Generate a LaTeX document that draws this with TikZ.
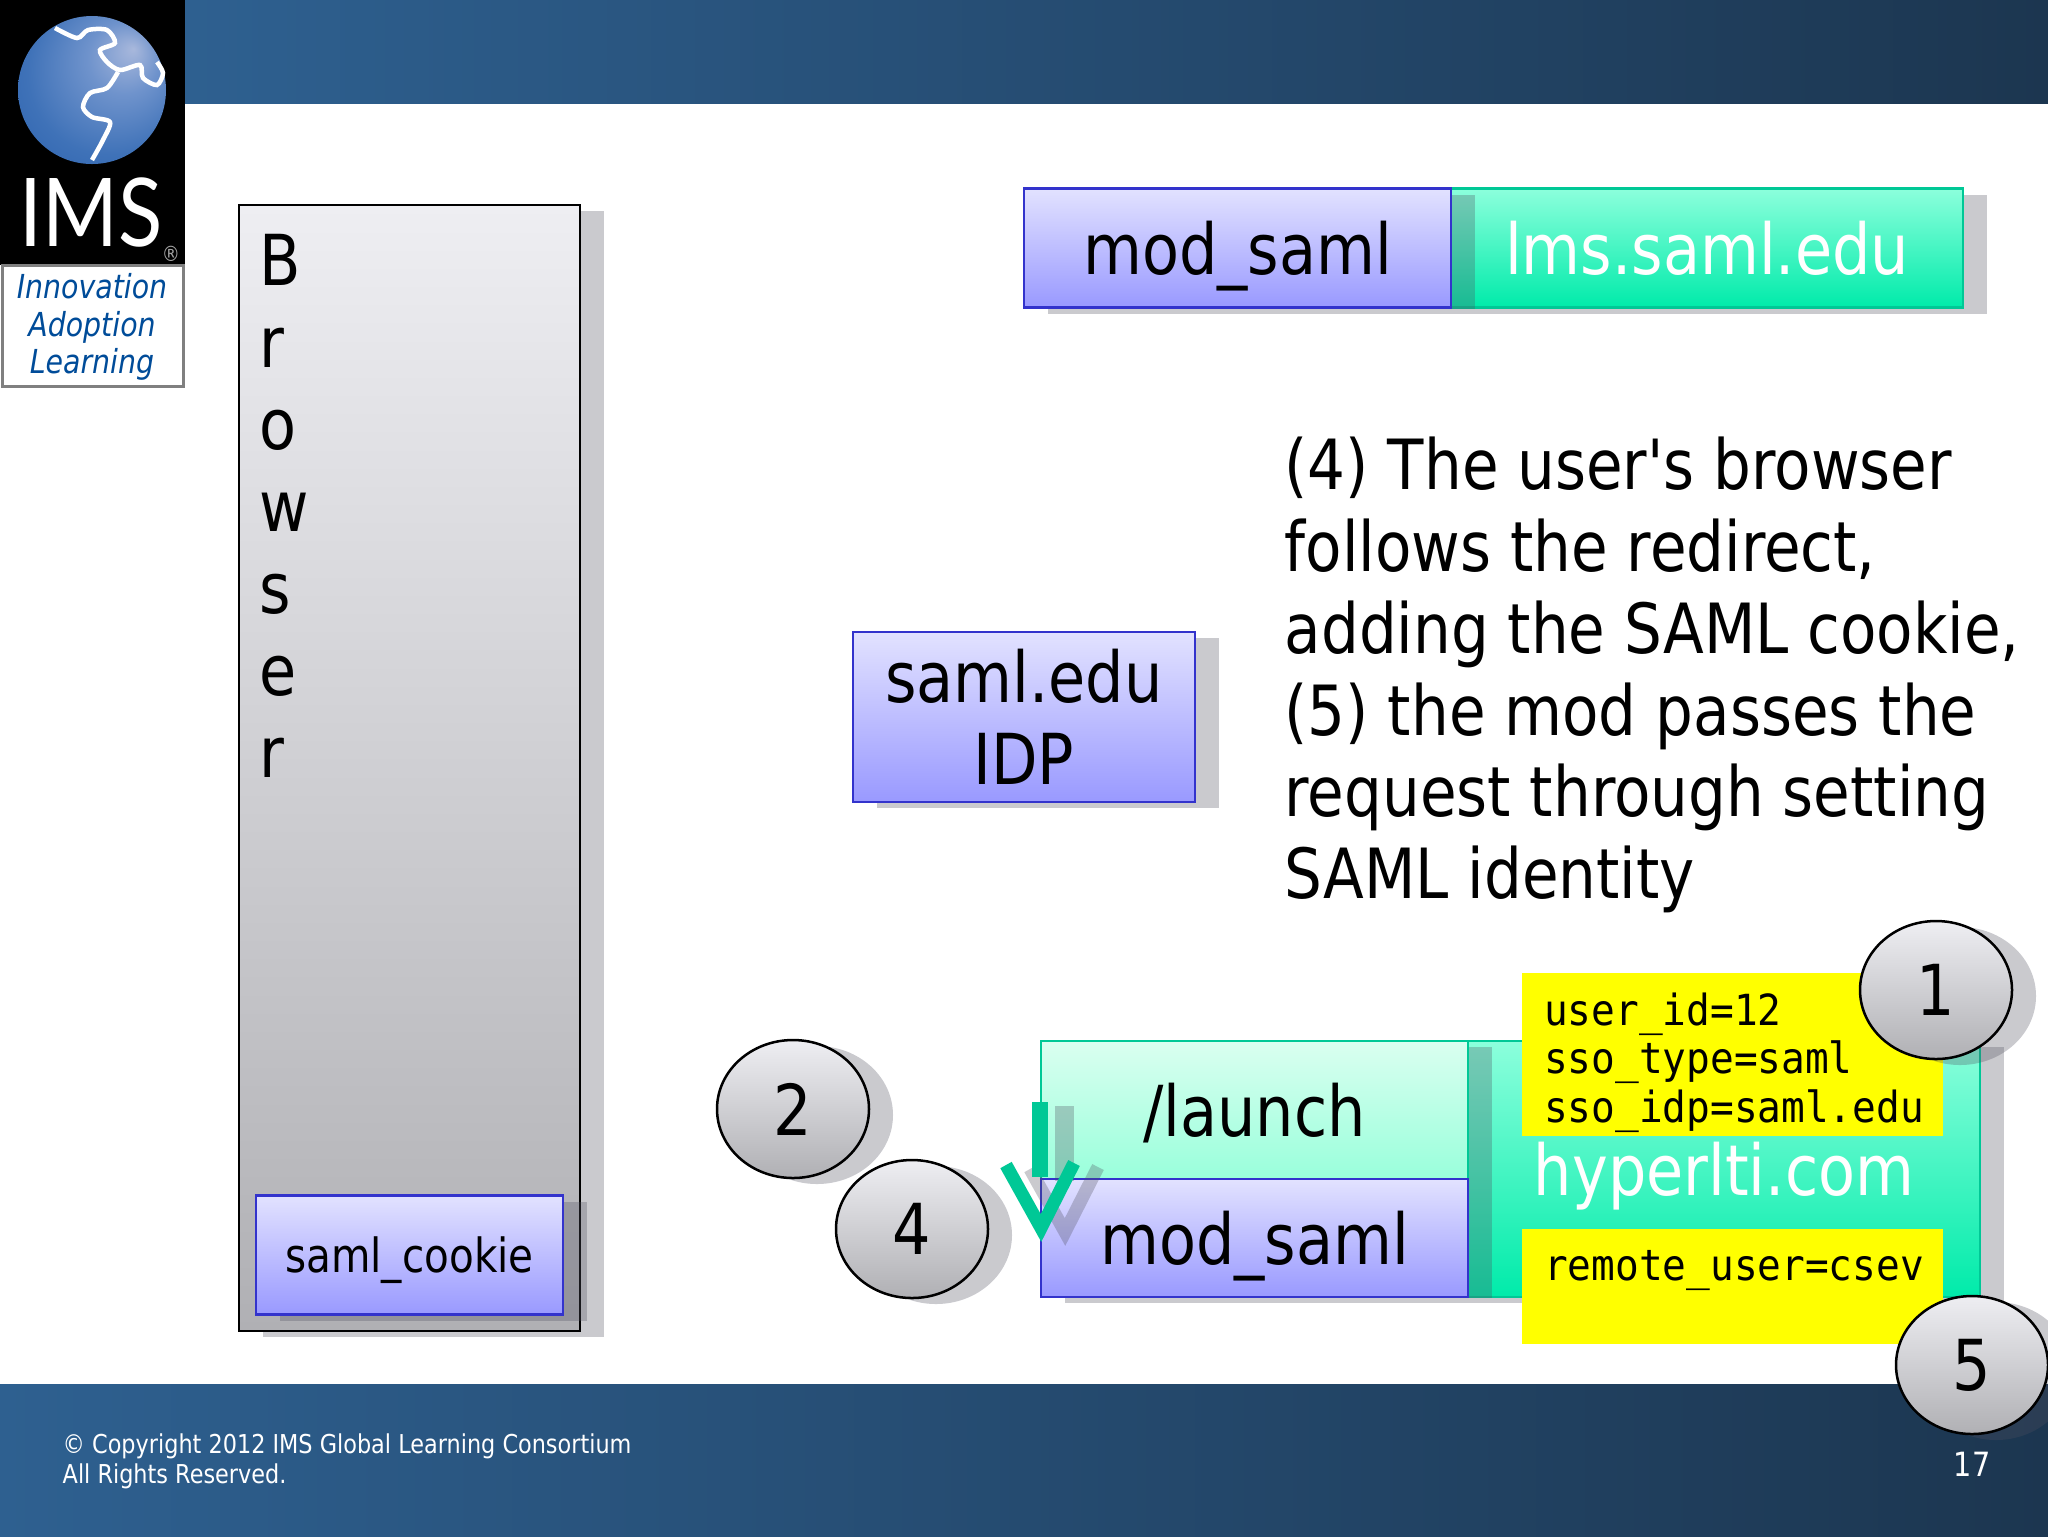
\documentclass[tikz,border=0pt]{standalone}
\usepackage{fontspec}
\setmainfont{DejaVu Sans}[FakeStretch=0.86]
\setmonofont{DejaVu Sans Mono}[FakeStretch=0.92]
\newfontfamily\logofont{Lato}[FakeStretch=0.86]
\newfontfamily\straightfont{DejaVu Sans}[FakeStretch=0.86]
\usepackage{tikz}
\usetikzlibrary{shadows}
\usetikzlibrary{shapes.geometric}
\definecolor{barlight}{HTML}{2E6090}
\definecolor{barmid}{HTML}{264A72}
\definecolor{bardark}{HTML}{1C3650}
\definecolor{arrowgreen}{HTML}{00C896}
\definecolor{shadowgray}{HTML}{505060}
\definecolor{blueedge}{HTML}{3333CC}
\definecolor{bluetop}{HTML}{E2E2FF}
\definecolor{bluelow}{HTML}{9999FF}
\definecolor{greentop}{HTML}{DAFFF0}
\definecolor{greenlow}{HTML}{99FFDB}
\definecolor{servertop}{HTML}{8CFFDC}
\definecolor{serverlow}{HTML}{00EBAA}
\definecolor{noteyellow}{RGB}{255,255,0}
\definecolor{graytop}{HTML}{EEEEF2}
\definecolor{graylow}{HTML}{B0B0B4}
\definecolor{globea}{HTML}{A8B8DC}
\definecolor{globeb}{HTML}{6F93CC}
\definecolor{globec}{HTML}{3F72B8}
\definecolor{globed}{HTML}{1F57A8}
\newcommand{\bigfont}{\fontsize{20}{23.3}\selectfont}
\newcommand{\parafont}{\fontsize{19.7}{23.3}\selectfont}
\newcommand{\cookiefont}{\fontsize{13.4}{15}\selectfont}
\newcommand{\monofont}{\ttfamily\fontsize{12.2}{13.9}\selectfont}
\newcommand{\footfont}{\fontsize{7.4}{8.6}\selectfont}
\pgfdeclareradialshading{globe}{\pgfpoint{14bp}{14bp}}{color(0bp)=(globea); color(12bp)=(globeb); color(28bp)=(globec); color(50bp)=(globed)}
\tikzset{
    shadowbox/.style={drop shadow={shadow xshift=2.4mm, shadow yshift=-0.6mm, fill=shadowgray, opacity=.3}},
    box/.style={shadowbox, inner sep=0, outer sep=0, line width=.22mm, font=\bigfont, align=center, text depth=0pt},
    bluebox/.style={box, draw=blueedge, top color=bluetop, bottom color=bluelow},
    greenbox/.style={box, draw=arrowgreen, top color=greentop, bottom color=greenlow},
    serverbox/.style={box, draw=arrowgreen, top color=servertop, bottom color=serverlow, text=white},
    yellowbox/.style={fill=noteyellow, inner sep=0, text width=37.7mm, inner xsep=2.1mm, minimum width=42.1mm, align=left, font=\monofont},
    step circle/.style={ellipse, shadowbox, draw=black, line width=.25mm, top color=graytop, bottom color=graylow, inner sep=0, minimum width=15.2mm, minimum height=13.8mm, font=\bigfont, text depth=-1.5pt},
}
\begin{document}
\begin{tikzpicture}[x=.1mm, y=-.1mm]
    \useasboundingbox(0, 0)rectangle(2048, 1536);
    \fill[white](0, 0)rectangle(2048, 1536);
    % header and footer
    \shade[left color=barlight, right color=bardark](185, 0)rectangle(2048, 103);
    \shade[left color=barlight, middle color=barmid, right color=bardark](0, 1384)rectangle(2048, 1536);
    \node[anchor=north west, text=white, font=\footfont, align=left, inner sep=0](copyright)at(62, 1433){© Copyright 2012 IMS Global Learning Consortium\\All Rights Reserved.};
    \node[text=white, font=\fontsize{9.5}{10}\selectfont, inner sep=0](pagenum)at(1972, 1464){17};
    % logo
    \fill[black](0, 0)rectangle(185, 265);
    \draw[gray, line width=.3mm, fill=white](2, 265)rectangle(183, 386);
    \shade[shading=globe](92, 90)circle(74);
    \draw[white, line width=.45mm]plot[smooth]coordinates{(55, 28)(77, 38)(88, 30)(107, 30)(115, 43)(100, 50)(107, 62)(120, 70)(140, 65)(143, 78)(157, 85)(163, 73)(157, 62)};
    \draw[white, line width=.45mm]plot[smooth]coordinates{(92, 160)(103, 140)(110, 122)(92, 117)(83, 107)(90, 93)(107, 88)(118, 72)};
    \node[text=white, font=\logofont\fontsize{27}{30}\selectfont, inner sep=0](imstext)at(91, 212){IMS};
    \node[text=gray!70, font=\fontsize{6}{6}\selectfont, inner sep=0](regmark)at(171, 254){®};
    \node[text=blue!50!cyan!60!black, font=\itshape\fontsize{9.4}{10.6}\selectfont, align=center, inner sep=0](tagline)at(92, 327){Innovation\\Adoption\\Learning};
    % browser
    \node[box, draw=black, top color=graytop, bottom color=graylow, minimum width=34.1mm, minimum height=112.6mm](browser)at(409.5, 768){};
    \node[anchor=north west, font=\bigfont, align=left, inner sep=0](browsertext)at(259, 234){B\\r\\o\\w\\s\\e\\r};
    \node[bluebox, minimum width=30.7mm, minimum height=11.9mm, font=\cookiefont](cookie)at(409.5, 1255){saml\_cookie};
    % top server
    \node[serverbox, minimum width=51.2mm, minimum height=11.9mm](lms)at(1707, 248){lms.saml.edu};
    \node[bluebox, minimum width=42.7mm, minimum height=11.9mm](modtop)at(1237.5, 248){mod\_saml};
    % idp
    \node[bluebox, minimum width=34.2mm, minimum height=17mm](idp)at(1024, 717){saml.edu\\IDP};
    \node[anchor=north west, font=\parafont, align=left, inner sep=0](steptext)at(1284, 436){(4) The user{\straightfont\char39}s browser\\follows the redirect,\\adding the SAML cookie,\\(5) the mod passes the\\request through setting\\SAML identity};
    % lower server
    \node[serverbox, minimum width=51.2mm, minimum height=25.6mm](hyper)at(1724, 1169){hyperlti.com};
    \node[greenbox, minimum width=42.7mm, minimum height=13.8mm](launch)at(1254.5, 1110){/launch};
    \node[bluebox, minimum width=42.7mm, minimum height=11.8mm](modlow)at(1254.5, 1238){mod\_saml};
    \node[yellowbox, minimum height=16.3mm, text depth=26pt](params)at(1732.5, 1054.5){user\_id=12\\sso\_type=saml\\sso\_idp=saml.edu};
    \node[yellowbox, minimum height=11.5mm](remote)at(1732.5, 1286.5){remote\_user=csev\\[-2pt]~};
    % arrow with its shadow
    \coordinate(stemtop)at(1040, 1102);
    \coordinate(stemend)at(1040, 1177);
    \coordinate(tipleft)at(1006, 1165);
    \coordinate(tip)at(1041, 1228);
    \coordinate(tipright)at(1074, 1163);
    \draw[shadowgray, opacity=.3, line width=1.9mm]([xshift=2.4mm, yshift=-.4mm]stemtop)--([xshift=2.4mm, yshift=-.4mm]stemend);
    \draw[shadowgray, opacity=.3, line width=1.3mm, miter limit=10]([xshift=2.4mm, yshift=-.4mm]tipleft)--([xshift=2.4mm, yshift=-.4mm]tip)--([xshift=2.4mm, yshift=-.4mm]tipright);
    \draw[arrowgreen, line width=1.6mm](stemtop)--(stemend);
    \draw[arrowgreen, line width=1.3mm, miter limit=10](tipleft)--(tip)--(tipright);
    % step circles
    \node[step circle](one)at(1936, 990){1};
    \node[step circle](two)at(793, 1109){2};
    \node[step circle](four)at(912, 1229){4};
    \node[step circle](five)at(1972, 1365){5};
\end{tikzpicture}
\end{document}
